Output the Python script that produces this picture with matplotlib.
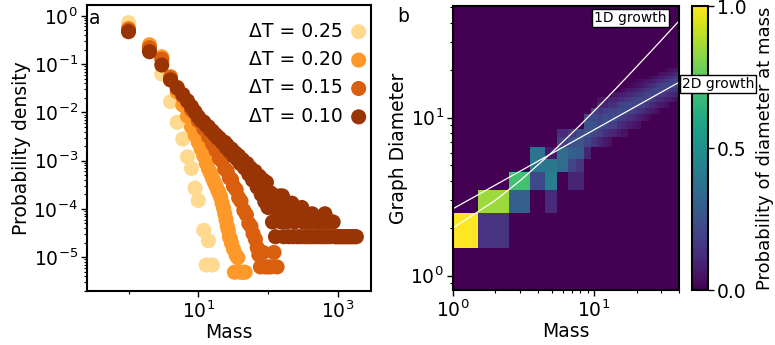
import numpy as np
import matplotlib
matplotlib.use("Agg")
import matplotlib.pyplot as plt
from matplotlib.ticker import LogLocator, NullFormatter, FixedLocator

# ---------------- Panel a data: probability density vs mass ----------------
labels_a = ["ΔT = 0.25", "ΔT = 0.20", "ΔT = 0.15", "ΔT = 0.10"]
colors_a = ["#fed98e", "#fe9929", "#d95f0e", "#993404"]

mass_025 = [1, 2, 3, 4, 5, 6, 7, 8, 9, 10, 12, 13, 14, 16]
dens_025 = [0.72, 0.21, 0.062, 0.0166, 0.0062, 0.0028, 0.0012, 6.9e-4, 2.7e-4,
            1.5e-4, 3.6e-5, 6.9e-6, 2.2e-5, 6.9e-6]

mass_020 = [1, 2, 3, 4, 5, 6, 7, 8, 9, 10, 11, 12, 13, 14, 15, 16, 17, 18, 19,
            20, 21, 22, 23, 24, 25, 26, 27, 28, 29, 30, 32, 33, 35, 37, 40, 44, 47]
logd_020 = [-0.26, -0.60, -0.85, -1.26, -1.58, -1.85, -2.08, -2.30, -2.47, -2.62,
            -2.76, -2.90, -3.05, -3.17, -3.26, -3.36, -3.45, -3.53, -3.61, -3.68,
            -3.76, -3.88, -3.98, -4.10, -4.22, -4.35, -4.44, -4.58, -4.62, -4.71,
            -4.83, -5.31, -4.96, -5.01, -5.31, -5.31, -5.31]

mass_015 = [1, 2, 3, 4, 5, 6, 7, 8, 9, 10, 11, 12, 13, 14, 15, 16, 17, 18, 19, 20,
            22, 24, 26, 28, 30, 32, 35, 38, 41, 45, 49, 53, 57, 61, 66, 70, 74,
            78, 85, 92, 100, 110, 122, 135]
logd_015 = [-0.29, -0.66, -0.90, -1.28, -1.48, -1.66, -1.78, -1.95, -2.02, -2.17,
            -2.20, -2.34, -2.37, -2.50, -2.52, -2.65, -2.66, -2.79, -2.80, -2.95,
            -3.01, -3.17, -3.22, -3.36, -3.39, -3.53, -3.60, -3.77, -3.84, -4.03,
            -4.12, -4.30, -4.36, -4.51, -4.63, -4.80, -4.95, -5.20, -4.90, -5.20,
            -5.20, -5.20, -4.90, -5.20]

mass_010 = [1, 2, 3, 4, 5, 6, 7, 8, 9, 10, 11, 12, 13, 14, 15, 16, 17, 18, 19, 20,
            22, 24, 25, 26, 28, 30, 32, 34, 36, 38, 40, 43, 46, 50, 53, 56, 60, 65,
            70, 75, 80, 85, 90, 95, 100,
            105, 110, 116, 122, 128, 134, 140, 147, 154, 161, 168, 176, 184, 192,
            200, 210, 220, 230, 240, 252, 265, 278, 292, 306, 320, 335, 350, 370,
            390, 410, 430, 455, 480, 510, 540, 570, 600, 630, 656, 690, 730, 770,
            815, 860, 910, 960, 1020, 1080, 1150, 1220, 1300, 1380, 1470, 1560,
            1660, 1760, 1850]
logd_010 = [-0.33, -0.745, -1.02, -1.33, -1.50, -1.63, -1.76, -1.88, -1.99, -2.09,
            -2.17, -2.20, -2.27, -2.30, -2.37, -2.39, -2.45, -2.47, -2.53, -2.53,
            -2.62, -2.62, -2.72, -2.68, -2.80, -2.76, -2.90, -2.84, -2.97, -2.90,
            -3.06, -2.98, -3.15, -3.06, -3.28, -3.15, -3.40, -3.22, -3.55, -3.32,
            -3.70, -3.40, -3.85, -3.45, -3.97,
            -3.88, -3.67, -4.27, -3.73, -4.575, -3.80, -4.10, -3.73, -4.27, -3.73,
            -4.575, -3.97, -4.27, -3.88, -4.575, -4.10, -3.88, -4.575, -4.27, -3.97,
            -4.575, -4.10, -4.575, -3.97, -4.27, -4.575, -4.10, -4.575, -4.27,
            -4.575, -4.10, -4.575, -4.27, -4.575, -4.27, -4.575, -4.27, -4.575,
            -4.10, -4.575, -4.27, -4.575, -4.27, -4.27, -4.575, -4.575, -4.575,
            -4.575, -4.575, -4.575, -4.575, -4.575, -4.575, -4.575, -4.575,
            -4.575, -4.575]

# ---------------- Panel b data: diameter distribution per mass ----------------
heat_masses = list(range(1, 41))
heat_start_diam = [2, 2, 3, 4, 3, 5, 4, 4, 6, 7,
                   7, 7, 7, 8, 8, 8, 8, 9, 9, 9,
                   9, 10, 10, 10, 10, 11, 11, 11, 11, 12,
                   12, 12, 12, 12, 13, 13, 13, 13, 14, 14]
heat_probs = [
    [1.0],
    [0.15, 0.85],
    [0.30, 0.70],
    [0.22, 0.40, 0.38],
    [0.12, 0.42, 0.40, 0.06],
    [0.35, 0.35, 0.18, 0.12],
    [0.10, 0.20, 0.30, 0.24, 0.16],
    [0.10, 0.15, 0.28, 0.25, 0.22],
    [0.10, 0.20, 0.25, 0.25, 0.20],
    [0.15, 0.20, 0.25, 0.22, 0.18],
    [0.10, 0.18, 0.22, 0.20, 0.16, 0.10, 0.04],
    [0.06, 0.14, 0.22, 0.24, 0.18, 0.10, 0.06],
    [0.05, 0.12, 0.18, 0.22, 0.20, 0.14, 0.09],
    [0.10, 0.18, 0.24, 0.20, 0.14, 0.09, 0.05],
    [0.07, 0.14, 0.20, 0.22, 0.18, 0.12, 0.07],
    [0.05, 0.11, 0.17, 0.22, 0.20, 0.14, 0.08, 0.03],
    [0.04, 0.09, 0.15, 0.21, 0.21, 0.15, 0.10, 0.05],
    [0.08, 0.14, 0.20, 0.22, 0.17, 0.11, 0.06, 0.02],
    [0.06, 0.12, 0.18, 0.21, 0.19, 0.13, 0.08, 0.03],
    [0.05, 0.10, 0.16, 0.20, 0.20, 0.14, 0.09, 0.04, 0.02],
    [0.04, 0.08, 0.14, 0.19, 0.21, 0.16, 0.10, 0.05, 0.03],
    [0.07, 0.13, 0.19, 0.21, 0.17, 0.12, 0.07, 0.04],
    [0.05, 0.11, 0.17, 0.21, 0.19, 0.14, 0.08, 0.05],
    [0.04, 0.09, 0.15, 0.20, 0.20, 0.16, 0.10, 0.06],
    [0.03, 0.07, 0.13, 0.18, 0.21, 0.17, 0.12, 0.06, 0.03],
    [0.07, 0.12, 0.18, 0.21, 0.18, 0.13, 0.07, 0.04],
    [0.05, 0.10, 0.16, 0.20, 0.20, 0.15, 0.09, 0.05],
    [0.04, 0.09, 0.14, 0.19, 0.21, 0.16, 0.11, 0.06],
    [0.03, 0.07, 0.12, 0.17, 0.21, 0.18, 0.12, 0.07, 0.03],
    [0.07, 0.12, 0.17, 0.21, 0.19, 0.13, 0.07, 0.04],
    [0.06, 0.11, 0.16, 0.20, 0.20, 0.14, 0.08, 0.05],
    [0.05, 0.09, 0.15, 0.19, 0.20, 0.16, 0.10, 0.06],
    [0.04, 0.08, 0.13, 0.18, 0.21, 0.17, 0.11, 0.05, 0.03],
    [0.03, 0.07, 0.12, 0.16, 0.20, 0.19, 0.13, 0.07, 0.03],
    [0.07, 0.12, 0.17, 0.21, 0.19, 0.13, 0.07, 0.04],
    [0.06, 0.11, 0.16, 0.20, 0.20, 0.14, 0.09, 0.04],
    [0.05, 0.10, 0.15, 0.19, 0.20, 0.16, 0.10, 0.05],
    [0.04, 0.09, 0.14, 0.18, 0.21, 0.17, 0.11, 0.06],
    [0.08, 0.14, 0.19, 0.21, 0.18, 0.12, 0.06, 0.02],
    [0.07, 0.13, 0.18, 0.21, 0.19, 0.13, 0.06, 0.03],
]
max_diam = 51

line1d_mass = [1, 2, 3, 5, 8, 12, 18, 25, 32, 40]
line1d_diam = [2, 3, 4, 6, 9, 13, 19, 26, 33, 41]
line2d_mass = [1, 40]
line2d_diam = [2.65, 16.76]

# ---------------- Figure ----------------
FS = 13.5
fig = plt.figure(figsize=(7.75, 3.45), dpi=100)
W, H = 775.0, 345.0

def add_ax(x0, y0, x1, y1):
    return fig.add_axes([x0 / W, 1 - y1 / H, (x1 - x0) / W, (y1 - y0) / H])

ax1 = add_ax(87, 5, 371, 291)
ax2 = add_ax(453, 6, 679, 290)
cax = add_ax(692, 6, 708, 290)

# Panel a
series = [(mass_025, dens_025), (mass_020, [10 ** v for v in logd_020]),
          (mass_015, [10 ** v for v in logd_015]), (mass_010, [10 ** v for v in logd_010])]
for (m, d), c, lab in zip(series, colors_a, labels_a):
    ax1.scatter(m, d, s=118, color=c, edgecolors="none", label=lab)
ax1.set_xscale("log")
ax1.set_yscale("log")
ax1.set_xlim(0.254, 3000)
ax1.set_ylim(2.0e-6, 1.67)
ax1.xaxis.set_major_locator(FixedLocator([10, 1000]))
ax1.xaxis.set_minor_locator(FixedLocator([1, 100]))
ax1.xaxis.set_minor_formatter(NullFormatter())
ax1.yaxis.set_major_locator(LogLocator(base=10, numticks=20))
ax1.yaxis.set_minor_locator(LogLocator(base=10, subs=np.arange(2, 10), numticks=20))
ax1.yaxis.set_minor_formatter(NullFormatter())
ax1.set_xlabel("Mass", fontsize=FS, labelpad=1)
ax1.set_ylabel("Probability density", fontsize=FS, labelpad=2)
ax1.text(0.008, 0.985, "a", transform=ax1.transAxes, fontsize=FS, va="top", ha="left")
leg = ax1.legend(loc="upper right", bbox_to_anchor=(1.016, 0.968), borderaxespad=0,
                 frameon=False, markerfirst=False, fontsize=FS, handlelength=1.0,
                 handletextpad=0.35, labelspacing=0.5, scatterpoints=1)

# Panel b
Z = np.zeros((max_diam, len(heat_masses)))
for j, (d0, probs) in enumerate(zip(heat_start_diam, heat_probs)):
    for k, p in enumerate(probs):
        Z[d0 - 1 + k, j] = p
x_edges = np.arange(0.5, len(heat_masses) + 1, 1.0)
y_edges = np.arange(0.5, max_diam + 1, 1.0)
mesh = ax2.pcolormesh(x_edges, y_edges, Z, cmap="viridis", vmin=0, vmax=1,
                      shading="flat", antialiased=False, rasterized=True)
ax2.plot(line1d_mass, line1d_diam, color="white", lw=0.9)
ax2.plot(line2d_mass, line2d_diam, color="white", lw=0.9)
ax2.set_xscale("log")
ax2.set_yscale("log")
ax2.set_xlim(1, 40)
ax2.set_ylim(0.81, 51)
ax2.set_xlabel("Mass", fontsize=FS, labelpad=1)
ax2.set_ylabel("Graph Diameter", fontsize=FS, labelpad=2)
fig.text(0.945, 0.957, "1D growth", transform=ax2.transAxes, fontsize=10,
         ha="right", va="center", zorder=10,
         bbox=dict(boxstyle="square,pad=0.15", fc="white", ec="black", lw=1.0))
fig.text(42, 16.4, "2D growth", transform=ax2.transData, fontsize=10,
         ha="left", va="center", zorder=10,
         bbox=dict(boxstyle="square,pad=0.15", fc="white", ec="black", lw=1.0))
fig.text(397 / W, 1 - 7 / H, "b", fontsize=FS, va="top", ha="left")

cb = fig.colorbar(mesh, cax=cax, ticks=[0.0, 0.5, 1.0])
cb.ax.set_yticklabels(["0.0", "0.5", "1.0"])
cb.set_label("Probability of diameter at mass", fontsize=13, labelpad=7)
cb.outline.set_linewidth(1.5)

for ax in (ax1, ax2, cax):
    ax.tick_params(labelsize=FS, width=1.0, length=4, pad=2.5)
    ax.tick_params(which="minor", width=0.8, length=2.5)
for ax in (ax1, ax2):
    for sp in ax.spines.values():
        sp.set_linewidth(1.5)

fig.savefig("out.png", dpi=100)
